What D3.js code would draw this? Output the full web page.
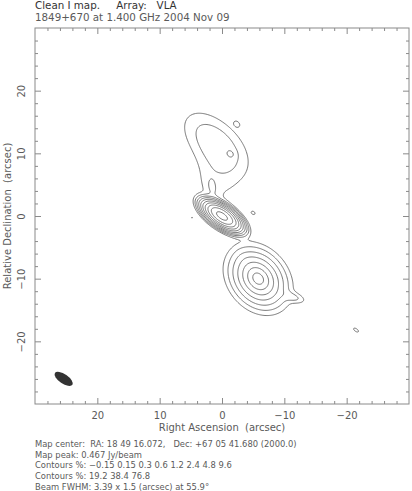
<!DOCTYPE html>
<html><head><meta charset="utf-8">
<script src="https://cdn.jsdelivr.net/npm/d3@7"></script>
<style>
body{margin:0;background:#fff;}
svg{display:block;font-family:"DejaVu Sans",sans-serif;}
text{white-space:pre;}
</style></head><body>
<svg id="chart" width="412" height="491"></svg>
<script>
// ---------------- data ----------------
const titleLines = ["Clean I map.     Array:   VLA", "1849+670 at 1.400 GHz 2004 Nov 09"];
const footerLines = [
  "Map center:  RA: 18 49 16.072,   Dec: +67 05 41.680 (2000.0)",
  "Map peak: 0.467 Jy/beam",
  "Contours %: \u22120.15 0.15 0.3 0.6 1.2 2.4 4.8 9.6",
  "Contours %: 19.2 38.4 76.8",
  "Beam FWHM: 3.39 x 1.5 (arcsec) at 55.9\u00b0"
];
const xTitle = "Right Ascension  (arcsec)";
const yTitle = "Relative Declination  (arcsec)";
const majorTicks = [20, 10, 0, -10, -20];
const minorTicks = [28,26,24,22,18,16,14,12,8,6,4,2,-2,-4,-6,-8,-12,-14,-16,-18,-22,-24,-26,-28];
const axisDomain = [30, -30];

const mapPeak = 0.467;                       // Jy/beam
const contourPct = [-0.15, 0.15, 0.3, 0.6, 1.2, 2.4, 4.8, 9.6, 19.2, 38.4, 76.8];

const beamMajor = 3.39, beamMinor = 1.5, beamPA = 55.9;   // arcsec, arcsec, deg
const beamPos = [25.4, -26.0];                             // arcsec (RA, Dec)

// source model components (offsets in arcsec, peak in Jy/beam)
const compName  = ["core","core halo","south","south ext","south tail","north","north knot","north spot","neck","jet base","core spot","far spot","negative"];
const compRA    = [ 0.0,  0.0, -5.8, -4.0, -11.5,  1.1, -1.4, -2.4,  0.8,  1.6, -5.0, -21.5,  4.8];
const compDec   = [ 0.0,  0.0,-10.0, -7.3, -13.0, 11.7,  9.9, 14.7,  6.3,  4.4,  0.5, -18.2, -0.3];
const compPeak  = [0.46,0.0012,0.075,0.0006,0.0013,0.0021,0.0016,0.0009,0.0009,0.0008,0.0009,0.0010,-0.0009];
const compMaj   = [3.39, 5.5,  1.3,  3.0,  3.0,  9.4,  1.2,  1.1,  7.5,  3.2,  1.0,  1.3,  0.6];
const compMin   = [1.5,  3.0,  1.0,  2.0,  1.2,  5.2,  1.0,  0.8,  6.5,  1.6,  0.7,  0.6,  0.4];
const compPA    = [55.9, 55.9, 40,   40,   74,   47,   40,   45,   0,    15,   60,   55,   90];
const compShape = ["g","g","e","g","g","g","g","g","g","g","g","g","g"];

// ---------------- layout ----------------
const svg = d3.select("#chart");
const plot = {left: 35, right: 409, top: 28, bottom: 404};
const x = d3.scaleLinear().domain(axisDomain).range([plot.left, plot.right]);
const y = d3.scaleLinear().domain([30, -30]).range([plot.top, plot.bottom]);
const textCol = "#5a5a5a", axisCol = "#8a8a8a", lineCol = "#666";

// ---------------- model grid ----------------
const step = 0.15, n = Math.round(60 / step) + 1;
function compValue(k, ra, dec) {
  const dx = ra - compRA[k], dy = dec - compDec[k];
  const pa = compPA[k] * Math.PI / 180;
  const u = dx * Math.sin(pa) + dy * Math.cos(pa);
  const v = -dx * Math.cos(pa) + dy * Math.sin(pa);
  if (compShape[k] === "g") {
    const sM = compMaj[k] / 2.3548, sm = compMin[k] / 2.3548;
    return compPeak[k] * Math.exp(-0.5 * ((u / sM) ** 2 + (v / sm) ** 2));
  } else {
    const c = 0.3, q = Math.hypot(u / compMaj[k], v / compMin[k]);
    return compPeak[k] * Math.exp(c - Math.sqrt(c * c + q * q));
  }
}
const values = new Float64Array(n * n);
for (let j = 0; j < n; j++) {
  const dec = 30 - j * step;
  for (let i = 0; i < n; i++) {
    const ra = 30 - i * step;
    let s = 0;
    for (let k = 0; k < compName.length; k++) s += compValue(k, ra, dec);
    values[i + j * n] = s;
  }
}
const posLevels = contourPct.filter(p => p > 0).map(p => p / 100 * mapPeak);
const negLevels = contourPct.filter(p => p < 0).map(p => -p / 100 * mapPeak);

const gridProj = d3.geoTransform({
  point: function(gx, gy) {
    this.stream.point(x(30 - (gx - 0.5) * step), y(30 - (gy - 0.5) * step));
  }
});
const path = d3.geoPath(gridProj);

svg.append("clipPath").attr("id", "clip").append("rect")
  .attr("x", plot.left).attr("y", plot.top)
  .attr("width", plot.right - plot.left).attr("height", plot.bottom - plot.top);

const cg = svg.append("g").attr("clip-path", "url(#clip)");
const posContours = d3.contours().size([n, n]).thresholds(posLevels)(values);
cg.selectAll("path.pos").data(posContours).join("path")
  .attr("class", "pos").attr("d", path)
  .attr("fill", "none").attr("stroke", lineCol).attr("stroke-width", 0.9);

const negValues = values.map(v => -v);
const negContours = d3.contours().size([n, n]).thresholds(negLevels)(negValues);
cg.selectAll("path.neg").data(negContours).join("path")
  .attr("class", "neg").attr("d", path)
  .attr("fill", "none").attr("stroke", lineCol).attr("stroke-width", 0.9)
  .attr("stroke-dasharray", "2,2");

// beam
const pxPerArc = Math.abs(x(1) - x(0));
cg.append("ellipse")
  .attr("transform", `translate(${x(beamPos[0])},${y(beamPos[1])}) rotate(${90 - beamPA})`)
  .attr("rx", beamMajor / 2 * pxPerArc).attr("ry", beamMinor / 2 * pxPerArc)
  .attr("fill", "#333");

// ---------------- axes ----------------
function styleAxis(g) {
  g.select(".domain").remove();
  g.selectAll("line").attr("stroke", axisCol);
  g.selectAll("text").attr("fill", textCol).attr("font-size", 10)
    .attr("font-family", "DejaVu Sans, sans-serif");
}
const fmt = d3.format("d");
// bottom
svg.append("g").attr("transform", `translate(0,${plot.bottom})`)
  .call(d3.axisBottom(x).tickValues(majorTicks).tickSize(-6).tickPadding(8).tickFormat(fmt)).call(styleAxis);
svg.append("g").attr("transform", `translate(0,${plot.bottom})`)
  .call(d3.axisBottom(x).tickValues(minorTicks).tickSize(-3).tickFormat("")).call(styleAxis);
// top
svg.append("g").attr("transform", `translate(0,${plot.top})`)
  .call(d3.axisTop(x).tickValues(majorTicks).tickSize(-6).tickFormat("")).call(styleAxis);
svg.append("g").attr("transform", `translate(0,${plot.top})`)
  .call(d3.axisTop(x).tickValues(minorTicks).tickSize(-3).tickFormat("")).call(styleAxis);
// left
const left = svg.append("g").attr("transform", `translate(${plot.left},0)`)
  .call(d3.axisLeft(y).tickValues(majorTicks).tickSize(-6).tickFormat(fmt)).call(styleAxis);
left.selectAll("text").attr("transform", "rotate(-90)").attr("x", 0).attr("y", -10)
  .attr("dy", 0).attr("text-anchor", "middle");
svg.append("g").attr("transform", `translate(${plot.left},0)`)
  .call(d3.axisLeft(y).tickValues(minorTicks).tickSize(-3).tickFormat("")).call(styleAxis);
// right
svg.append("g").attr("transform", `translate(${plot.right},0)`)
  .call(d3.axisRight(y).tickValues(majorTicks).tickSize(-6).tickFormat("")).call(styleAxis);
svg.append("g").attr("transform", `translate(${plot.right},0)`)
  .call(d3.axisRight(y).tickValues(minorTicks).tickSize(-3).tickFormat("")).call(styleAxis);

svg.append("rect").attr("x", plot.left).attr("y", plot.top)
  .attr("width", plot.right - plot.left).attr("height", plot.bottom - plot.top)
  .attr("fill", "none").attr("stroke", axisCol).attr("stroke-width", 1);

// titles
svg.selectAll("text.title").data(titleLines).join("text").attr("class", "title")
  .attr("x", plot.left).attr("y", (d, i) => 9 + i * 11.5)
  .attr("font-size", 10.3).attr("fill", (d, i) => i === 0 ? "#333" : textCol)
  .text(d => d);

svg.append("text").attr("x", (plot.left + plot.right) / 2).attr("y", 431)
  .attr("text-anchor", "middle").attr("font-size", 10).attr("fill", textCol).text(xTitle);
svg.append("text").attr("transform", `translate(11,${(plot.top + plot.bottom) / 2}) rotate(-90)`)
  .attr("text-anchor", "middle").attr("font-size", 10).attr("fill", textCol).text(yTitle);

svg.selectAll("text.foot").data(footerLines).join("text").attr("class", "foot")
  .attr("x", plot.left).attr("y", (d, i) => 447 + i * 10.7)
  .attr("font-size", 8.4).attr("fill", textCol).text(d => d);
</script>
</body></html>
